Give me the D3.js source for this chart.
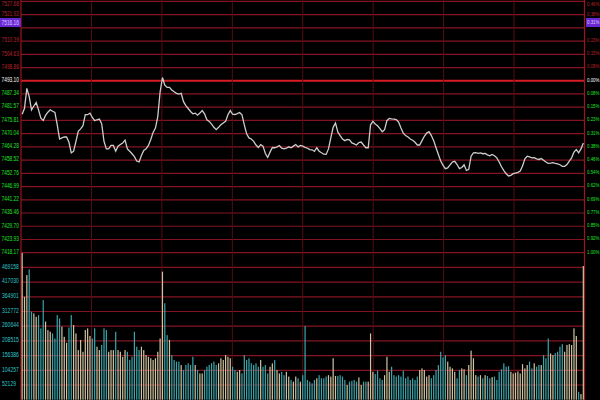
<!DOCTYPE html>
<html>
<head>
<meta charset="utf-8">
<script src="https://cdn.jsdelivr.net/npm/d3@7"></script>
<style>
  body { margin: 0; background: #000; }
  svg { display: block; }
</style>
</head>
<body>
<div id="chart"></div>
<script>
// Intraday index chart: price line on top, minute volume below

// Price per minute (241 minutes, 9:30 .. 15:00)
const prices = [
  7478.5, 7481.1, 7489.8, 7486.2, 7480.4, 7482.1, 7483.6, 7480.4, 7476.8, 7475.8,
  7478.0, 7479.4, 7480.4, 7479.8, 7479.3, 7473.9, 7467.7, 7468.2, 7468.6, 7468.6,
  7466.3, 7461.7, 7462.4, 7466.7, 7471.1, 7472.1, 7473.5, 7478.3, 7478.3, 7479.0,
  7477.1, 7475.7, 7476.1, 7476.4, 7474.4, 7466.7, 7463.4, 7463.4, 7464.9, 7464.9,
  7462.4, 7464.6, 7465.3, 7466.0, 7467.2, 7463.4, 7462.4, 7461.3, 7460.0, 7458.1,
  7457.7, 7460.5, 7462.7, 7463.4, 7464.9, 7467.5, 7470.6, 7472.5, 7477.5, 7488.3,
  7494.5, 7491.2, 7490.2, 7490.2, 7489.1, 7488.3, 7487.6, 7487.3, 7487.6, 7484.0,
  7482.3, 7481.0, 7479.7, 7478.7, 7479.0, 7478.1, 7479.0, 7480.1, 7478.7, 7476.1,
  7475.4, 7474.2, 7472.8, 7471.8, 7472.8, 7473.9, 7474.7, 7475.4, 7478.3, 7480.1,
  7478.5, 7478.4, 7478.8, 7479.3, 7478.3, 7473.9, 7470.0, 7468.2, 7467.7, 7466.7,
  7465.1, 7464.0, 7465.3, 7464.6, 7461.4, 7459.7, 7462.0, 7464.0, 7463.9, 7464.3,
  7464.9, 7463.7, 7463.4, 7463.7, 7464.3, 7463.9, 7464.6, 7465.3, 7464.3, 7464.9,
  7464.6, 7464.1, 7463.7, 7463.1, 7463.0, 7462.3, 7463.9, 7462.4, 7461.7, 7461.1,
  7461.0, 7463.4, 7468.2, 7472.8, 7474.7, 7470.8, 7469.2, 7467.7, 7467.0, 7467.5,
  7467.3, 7466.0, 7465.6, 7465.1, 7466.2, 7466.4, 7465.1, 7463.9, 7463.9, 7473.9,
  7475.4, 7474.2, 7473.5, 7472.2, 7470.9, 7471.8, 7475.7, 7476.7, 7476.5, 7476.4,
  7476.2, 7475.1, 7472.5, 7470.3, 7469.2, 7468.6, 7467.7, 7467.2, 7466.3, 7465.1,
  7465.1, 7467.0, 7468.9, 7470.3, 7470.9, 7469.2, 7467.0, 7463.9, 7461.0, 7458.1,
  7456.2, 7454.8, 7455.1, 7456.4, 7457.7, 7458.0, 7456.6, 7454.8, 7455.3, 7456.5,
  7454.0, 7454.5, 7460.2, 7461.7, 7461.8, 7461.5, 7461.7, 7461.3, 7461.4, 7460.8,
  7460.4, 7461.0, 7460.4, 7459.5, 7457.7, 7455.6, 7453.9, 7452.6, 7451.6, 7451.9,
  7452.6, 7452.9, 7453.2, 7453.8, 7455.9, 7459.1, 7460.2, 7459.9, 7459.5, 7459.6,
  7459.1, 7458.8, 7459.2, 7458.5, 7457.7, 7457.1, 7457.2, 7457.4, 7457.1, 7456.9,
  7456.5, 7455.8, 7455.8, 7456.6, 7458.1, 7459.5, 7462.0, 7463.1, 7461.7, 7463.4,
  7466.0
];

// Volume per minute, in thousands
const volumes = [
  520, 365, 442, 462, 312, 306, 294, 300, 253, 353,
  277, 247, 241, 235, 217, 300, 288, 259, 223, 202,
  256, 300, 265, 235, 176, 212, 170, 247, 253, 226,
  217, 253, 188, 176, 194, 253, 247, 170, 176, 176,
  241, 176, 170, 152, 176, 170, 141, 152, 241, 188,
  176, 188, 176, 158, 152, 147, 141, 147, 170, 217,
  454, 342, 229, 212, 158, 141, 135, 135, 123, 105,
  123, 129, 123, 152, 123, 105, 93, 93, 105, 117,
  123, 129, 135, 123, 129, 147, 141, 158, 152, 147,
  117, 105, 99, 105, 93, 158, 141, 147, 129, 123,
  129, 117, 141, 117, 123, 93, 117, 129, 141, 105,
  93, 99, 87, 99, 82, 70, 64, 82, 76, 64,
  87, 261,
  70, 64, 58, 70, 76, 87, 76, 76, 82, 87, 82,
  147, 84, 84, 87, 82, 70, 52, 64, 67, 70, 64,
  79, 52, 64, 64, 64, 235, 99, 91, 103, 76,
  70, 87, 152, 99, 117, 87, 82, 87, 82, 103, 76,
  82, 70, 76, 70, 82, 105, 111, 105, 82, 87,
  76, 87, 105, 123, 170, 150, 158, 135, 117, 111, 99,
  76, 105, 111, 108, 87, 123, 174, 147, 87, 82,
  87, 76, 87, 84, 76, 80, 82, 70, 99, 108, 129,
  117, 119, 99, 93, 96, 100, 93, 126, 111, 123, 135,
  111, 129, 117, 123, 123, 158, 147, 217, 164, 158,
  165, 170, 188, 197, 170, 194, 197, 194, 253, 226, 28, 20, 474
];

const preClose = 7493.10;
const priceTicks = ["7527.68", "7521.92", "7516.16", "7510.39", "7504.63", "7498.86", "7493.10",
  "7487.34", "7481.57", "7475.81", "7470.04", "7464.28", "7458.52", "7452.76", "7446.99",
  "7441.22", "7435.46", "7429.70", "7423.93", "7418.17"];
const pctTicks = ["0.46%", "0.38%", "0.31%", "0.23%", "0.15%", "0.08%", "0.00%",
  "0.08%", "0.15%", "0.23%", "0.31%", "0.38%", "0.46%", "0.54%", "0.62%",
  "0.69%", "0.77%", "0.85%", "0.92%", "1.00%"];
const volTicks = [469158, 417030, 364901, 312772, 260644, 208515, 156386, 104257, 52129];
const volMax = 521287;

const W = 600, H = 400;
const left = 21, right = 584.5;
const priceTop = 1.4, priceBottom = 252.7, volBottom = 399.7;

const svg = d3.select("#chart").append("svg")
  .attr("width", W).attr("height", H)
  .style("background", "#000");

// Scales
const x = d3.scaleBand()
  .domain(d3.range(prices.length))
  .range([left, right]);
const xTime = d3.scaleLinear().domain([0, 240]).range([left, right]);
const yPrice = d3.scaleLinear()
  .domain([+priceTicks[priceTicks.length - 1], +priceTicks[0]])
  .range([priceBottom, priceTop]);
const yVol = d3.scaleLinear().domain([0, volMax]).range([volBottom, priceBottom]);

const grid = svg.append("g");

// horizontal grid, price panel
grid.selectAll("line.hp")
  .data(priceTicks)
  .join("line")
  .attr("x1", left).attr("x2", right)
  .attr("y1", d => yPrice(+d)).attr("y2", d => yPrice(+d))
  .attr("stroke", d => +d === preClose ? "#d81c22" : "#841422")
  .attr("stroke-width", d => +d === preClose ? 2 : 1.2);

// horizontal grid, volume panel
grid.selectAll("line.hv")
  .data(volTicks)
  .join("line")
  .attr("x1", left).attr("x2", right)
  .attr("y1", d => yVol(d)).attr("y2", d => yVol(d))
  .attr("stroke", "#841422")
  .attr("stroke-width", 1.2);

// vertical grid every 30 minutes
grid.selectAll("line.v")
  .data(d3.range(0, 241, 30))
  .join("line")
  .attr("x1", d => xTime(d)).attr("x2", d => xTime(d))
  .attr("y1", 0).attr("y2", H)
  .attr("stroke", d => (d === 0 || d === 240) ? "#a0121e" : "#5a0c16")
  .attr("stroke-width", d => (d === 0 || d === 240) ? 1.2 : 1);

// Volume bars, colour by minute direction
svg.append("g")
  .selectAll("rect")
  .data(volumes)
  .join("rect")
  .attr("x", (d, i) => x(i) + x.bandwidth() / 2 - 0.6)
  .attr("width", 1.2)
  .attr("y", d => yVol(Math.min(d * 1000, volMax)))
  .attr("height", d => volBottom - yVol(Math.min(d * 1000, volMax)))
  .attr("fill", (d, i) => (i > 0 && prices[i] < prices[i - 1]) ? "#3aa6ac" : "#cfc4a0");

// Price line
const line = d3.line()
  .x((d, i) => x(i) + x.bandwidth() / 2)
  .y(d => yPrice(d));

svg.append("path")
  .datum(prices)
  .attr("fill", "none")
  .attr("stroke", "#cccccc")
  .attr("stroke-width", 1.3)
  .attr("d", line);

// highlighted label boxes
svg.append("rect").attr("x", 0).attr("y", 18).attr("width", left).attr("height", 9).attr("fill", "#6a28d4");
svg.append("rect").attr("x", right + 1.5).attr("y", 18).attr("width", W - right).attr("height", 9).attr("fill", "#6a28d4");

const labelColor = i => +priceTicks[i] > preClose ? "#b8202a" : (+priceTicks[i] === preClose ? "#ffffff" : "#22e02a");
const labelY = i => i === 2 ? 22.5 : Math.max(4, yPrice(+priceTicks[i]) - 1);

// Left price labels
svg.append("g")
  .selectAll("text")
  .data(priceTicks)
  .join("text")
  .attr("x", 1.5)
  .attr("y", (d, i) => labelY(i))
  .attr("dy", "0.35em")
  .attr("textLength", 17.5)
  .attr("lengthAdjust", "spacingAndGlyphs")
  .style("font", "6.5px 'Liberation Sans', Arial, sans-serif")
  .attr("fill", (d, i) => i === 2 ? "#d8c8ff" : labelColor(i))
  .text(d => d);

// Right percent labels
svg.append("g")
  .selectAll("text")
  .data(pctTicks)
  .join("text")
  .attr("x", 599.5)
  .attr("text-anchor", "end")
  .attr("y", (d, i) => labelY(i))
  .attr("dy", "0.35em")
  .attr("textLength", 12.5)
  .attr("lengthAdjust", "spacingAndGlyphs")
  .style("font", "5.5px 'Liberation Sans', Arial, sans-serif")
  .attr("fill", (d, i) => i === 2 ? "#d8c8ff" : labelColor(i))
  .text(d => d);

// Volume labels
svg.append("g")
  .selectAll("text")
  .data(volTicks)
  .join("text")
  .attr("x", 2)
  .attr("y", d => yVol(d) - 1)
  .attr("dy", "0.35em")
  .attr("textLength", d => String(d).length * 2.8)
  .attr("lengthAdjust", "spacingAndGlyphs")
  .style("font", "6.5px 'Liberation Sans', Arial, sans-serif")
  .attr("fill", "#2ec4c8")
  .text(d => d);
</script>
</body>
</html>
